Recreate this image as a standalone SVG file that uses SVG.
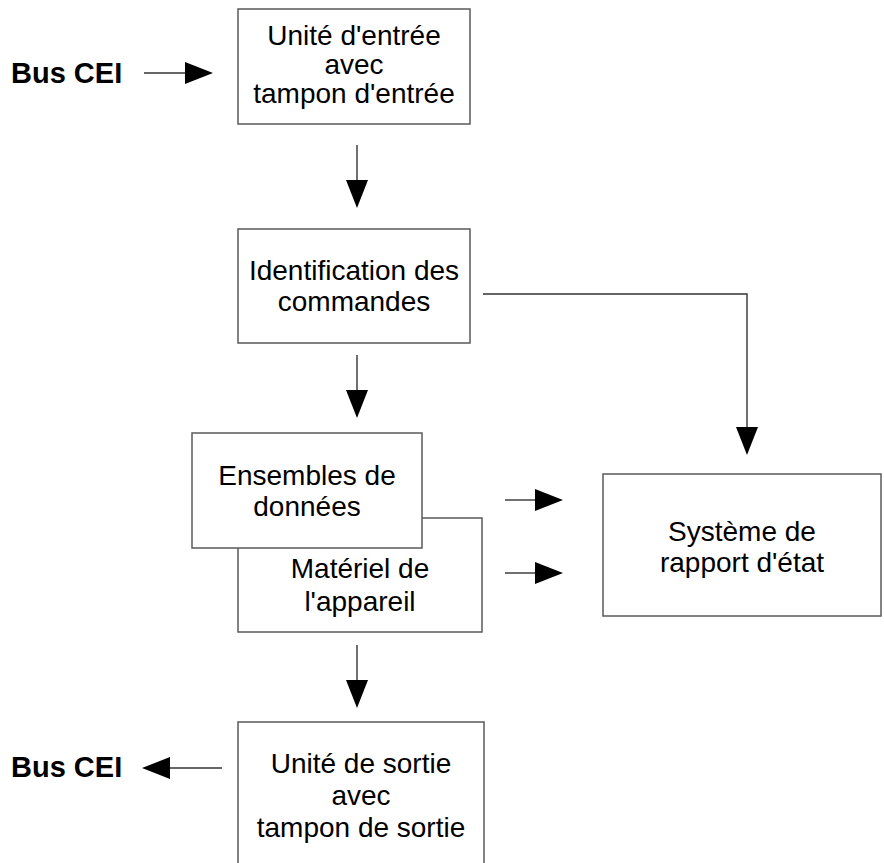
<svg xmlns="http://www.w3.org/2000/svg" width="884" height="863" viewBox="0 0 884 863">
<style>
.box{fill:#fff;stroke:#5a5a5a;stroke-width:1.5}
.t{font-family:"Liberation Sans",Arial,sans-serif;font-size:28px;fill:#000;text-anchor:middle}
.b{font-family:"Liberation Sans",Arial,sans-serif;font-size:29px;font-weight:bold;fill:#000}
.c{fill:none;stroke:#333;stroke-width:1.4}
</style>
<defs>
<marker id="ah" markerUnits="userSpaceOnUse" markerWidth="28" markerHeight="22" viewBox="0 0 28 22" refX="0" refY="11" orient="auto">
<path d="M0,0 L28,11 L0,22 z" fill="#000"/>
</marker>
</defs>
<g id="connectors">
<line class="c" x1="144" y1="73" x2="185" y2="73" marker-end="url(#ah)"/>
<line class="c" x1="357" y1="145" x2="357" y2="180" marker-end="url(#ah)"/>
<line class="c" x1="357" y1="355" x2="357" y2="390" marker-end="url(#ah)"/>
<polyline class="c" points="483,294 747,294 747,427" marker-end="url(#ah)"/>
<line class="c" x1="505" y1="500" x2="535" y2="500" marker-end="url(#ah)"/>
<line class="c" x1="505" y1="573" x2="535" y2="573" marker-end="url(#ah)"/>
<line class="c" x1="357" y1="645" x2="357" y2="680" marker-end="url(#ah)"/>
<line class="c" x1="222" y1="768" x2="170" y2="768" marker-end="url(#ah)"/>
</g>
<g id="bus-in"><text class="b" x="11" y="83">Bus CEI</text></g>
<g id="bus-out"><text class="b" x="11" y="777">Bus CEI</text></g>
<g id="unite-entree">
<rect class="box" x="238" y="9" width="232" height="115"/>
<text class="t" x="354" y="45">Unité d'entrée</text>
<text class="t" x="354" y="74">avec</text>
<text class="t" x="354" y="103">tampon d'entrée</text>
</g>
<g id="identification">
<rect class="box" x="238" y="229" width="232" height="114"/>
<text class="t" x="354" y="280">Identification des</text>
<text class="t" x="354" y="311">commandes</text>
</g>
<g id="materiel">
<rect class="box" x="238" y="518" width="244" height="114"/>
<text class="t" x="360" y="578">Matériel de</text>
<text class="t" x="360" y="611">l'appareil</text>
</g>
<g id="ensembles">
<rect class="box" x="192" y="433" width="230" height="115"/>
<text class="t" x="307" y="485">Ensembles de</text>
<text class="t" x="307" y="516">données</text>
</g>
<g id="rapport">
<rect class="box" x="603" y="474" width="278" height="142"/>
<text class="t" x="742" y="541">Système de</text>
<text class="t" x="742" y="572">rapport d'état</text>
</g>
<g id="unite-sortie">
<rect class="box" x="238" y="722" width="246" height="170"/>
<text class="t" x="361" y="773">Unité de sortie</text>
<text class="t" x="361" y="805">avec</text>
<text class="t" x="361" y="837">tampon de sortie</text>
</g>
</svg>
